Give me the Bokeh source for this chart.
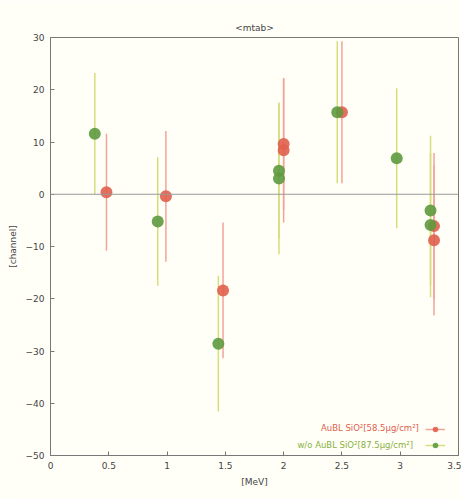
from bokeh.plotting import figure
from bokeh.models import (ColumnDataSource, FixedTicker, Span, Legend,
                          LegendItem, Label, Range1d)
from bokeh.embed import file_html
from bokeh.resources import INLINE

# ---- data ----
red_x = [0.48, 0.99, 1.48, 2.00, 2.00, 2.50, 3.29, 3.29]
red_y = [0.4, -0.4, -18.4, 9.6, 8.4, 15.7, -6.1, -8.8]
red_err = [11.2, 12.5, 13.0, 12.6, 13.8, 13.6, 14.0, 14.4]

green_x = [0.38, 0.92, 1.44, 1.96, 1.96, 2.46, 2.97, 3.26, 3.26]
green_y = [11.6, -5.2, -28.6, 4.5, 3.0, 15.7, 6.9, -3.1, -5.9]
green_err = [11.6, 12.3, 13.0, 13.0, 14.5, 13.6, 13.4, 14.3, 13.8]

x_ticks = [0, 0.5, 1, 1.5, 2, 2.5, 3, 3.5]
x_tick_labels = ["0", "0.5", "1", "1.5", "2", "2.5", "3", "3.5"]
y_ticks = [30, 20, 10, 0, -10, -20, -30, -40, -50]

red_label = "AuBL SiO\u00b2[58.5\u03bcg/cm\u00b2]"
green_label = "w/o AuBL SiO\u00b2[87.5\u03bcg/cm\u00b2]"
title_text = "<mtab>"
x_title = "[MeV]"
y_title = "[channel]"

RED = "#e0604c"
GREEN = "#5e9a3e"
RED_BAR = "#f2a49a"
GREEN_BAR = "#d6de7c"
BG = "#fffff8"
AX = "#777777"
TXT = "#444444"
FONT = "DejaVu Sans"

p = figure(width=461, height=499, output_backend="svg", toolbar_location=None,
           x_range=Range1d(0, 3.5), y_range=Range1d(-50, 30),
           min_border_left=50, min_border_right=3, min_border_top=37,
           min_border_bottom=44)
p.background_fill_color = BG
p.border_fill_color = BG
p.outline_line_color = AX
p.xgrid.visible = False
p.ygrid.visible = False

p.title.text = title_text
p.title.align = "center"
p.title.text_font = FONT
p.title.text_font_size = "9px"
p.title.text_font_style = "normal"
p.title.text_color = TXT

for ax in (p.xaxis[0], p.yaxis[0]):
    ax.axis_line_color = AX
    ax.major_tick_line_color = AX
    ax.major_tick_in = 4
    ax.major_tick_out = 0
    ax.minor_tick_line_color = None
    ax.major_label_text_font = FONT
    ax.major_label_text_font_size = "9px"
    ax.major_label_text_color = TXT
    ax.axis_label_text_font = FONT
    ax.axis_label_text_font_size = "9px"
    ax.axis_label_text_font_style = "normal"
    ax.axis_label_text_color = TXT

p.xaxis.ticker = FixedTicker(ticks=x_ticks)
p.xaxis.major_label_overrides = {t: l for t, l in zip(x_ticks, x_tick_labels)}
p.yaxis.ticker = FixedTicker(ticks=y_ticks)
p.xaxis.axis_label = x_title
p.yaxis.axis_label = y_title
p.xaxis.major_label_standoff = 6
p.yaxis.major_label_standoff = 6

p.add_layout(Span(location=0, dimension="width", line_color="#999999", line_width=1))

rsrc = ColumnDataSource(dict(x=red_x, y=red_y,
                             lo=[y - e for y, e in zip(red_y, red_err)],
                             hi=[y + e for y, e in zip(red_y, red_err)]))
gsrc = ColumnDataSource(dict(x=green_x, y=green_y,
                             lo=[y - e for y, e in zip(green_y, green_err)],
                             hi=[y + e for y, e in zip(green_y, green_err)]))

gbar = p.segment(x0="x", y0="lo", x1="x", y1="hi", source=gsrc,
                 line_color=GREEN_BAR, line_width=1.5)
rbar = p.segment(x0="x", y0="lo", x1="x", y1="hi", source=rsrc,
                 line_color=RED_BAR, line_width=1.5)
rsc = p.scatter("x", "y", source=rsrc, size=12, fill_color=RED, line_color=None,
                fill_alpha=0.9)
gsc = p.scatter("x", "y", source=gsrc, size=12, fill_color=GREEN, line_color=None,
                fill_alpha=0.9)

legend = Legend(items=[LegendItem(label=" ", renderers=[rbar, rsc]),
                       LegendItem(label=" ", renderers=[gbar, gsc])],
                location=(375, 3), orientation="vertical",
                background_fill_alpha=0, border_line_alpha=0,
                padding=0, margin=0, spacing=2, glyph_height=14, glyph_width=20,
                label_text_font_size="9px", label_width=0, label_standoff=0)
p.add_layout(legend, "center")

p.add_layout(Label(x=3.16, y=-44.8, text=red_label, text_align="right",
                   text_baseline="middle", text_color=RED, text_font=FONT,
                   text_font_size="8.5px"))
p.add_layout(Label(x=3.11, y=-47.9, text=green_label, text_align="right",
                   text_baseline="middle", text_color="#8ab040", text_font=FONT,
                   text_font_size="8.5px"))

open("out.html", "w").write(file_html(p, INLINE))
